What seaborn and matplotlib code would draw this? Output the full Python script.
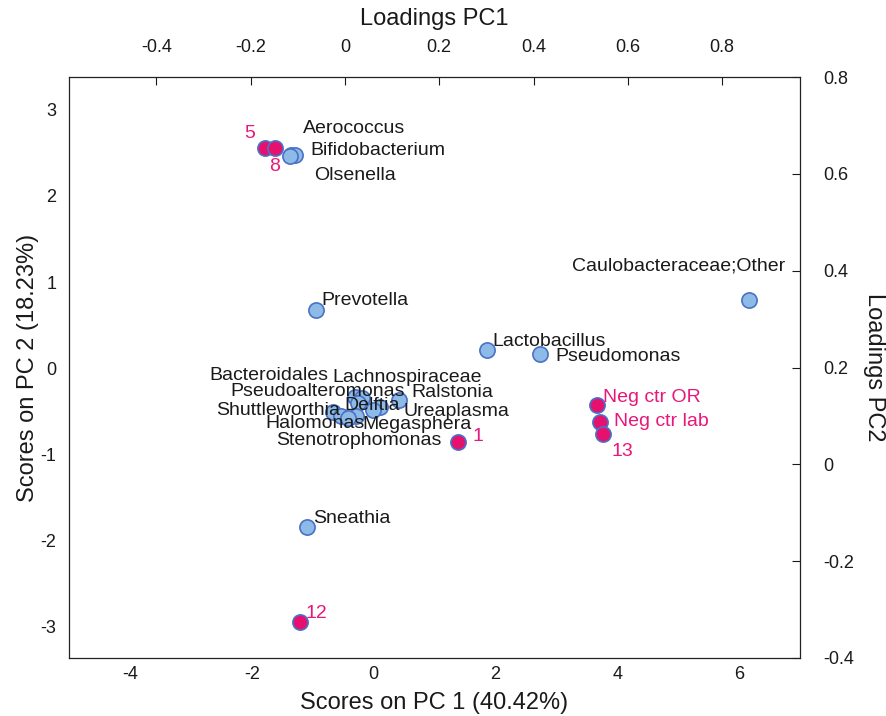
import matplotlib
matplotlib.use("Agg")
import matplotlib.pyplot as plt
import seaborn as sns
import pandas as pd

# ---- data ----
score_names = ["5", "8", "1", "12", "Neg ctr OR", "Neg ctr lab", "13"]
score_pc1 = [-1.78, -1.62, 1.39, -1.21, 3.67, 3.72, 3.76]
score_pc2 = [2.56, 2.56, -0.86, -2.94, -0.43, -0.62, -0.76]

loading_names = ["Aerococcus", "Bifidobacterium", "Olsenella", "Prevotella",
                 "Lactobacillus", "Pseudomonas", "Caulobacteraceae;Other", "Sneathia",
                 "Bacteroidales", "Lachnospiraceae", "Pseudoalteromonas", "Ralstonia",
                 "Shuttleworthia", "Delftia", "Ureaplasma", "Halomonas", "Megasphera",
                 "Stenotrophomonas"]
loading_pc1 = [-0.115, -0.106, -0.117, -0.062, 0.301, 0.414, 0.857, -0.081,
               0.021, 0.036, 0.028, 0.115, -0.025, 0.074, 0.059, -0.008, 0.023, 0.006]
loading_pc2 = [0.639, 0.639, 0.637, 0.319, 0.236, 0.228, 0.340, -0.129,
               0.139, 0.137, 0.127, 0.133, 0.108, 0.118, 0.112, 0.100, 0.100, 0.096]

# label offsets in pixels (dx, dy up) and horizontal alignment -- layout only
score_label_offsets = {"5": (-15, 14, "center"), "8": (0, -19, "center"),
                       "1": (20, 6, "center"), "12": (17, 8, "center"),
                       "Neg ctr OR": (6, 8, "left"), "Neg ctr lab": (14, 0, "left"),
                       "13": (20, -18, "center")}
loading_label_offsets = {"Aerococcus": (12, 26), "Bifidobacterium": (15, 4),
                         "Olsenella": (24, -20), "Prevotella": (6, 9),
                         "Lactobacillus": (6, 9), "Pseudomonas": (15, -3),
                         "Caulobacteraceae;Other": (-177, 34), "Sneathia": (6, 8),
                         "Bacteroidales": (-145, 22), "Lachnospiraceae": (-29, 21),
                         "Pseudoalteromonas": (-128, 11), "Ralstonia": (12, 7),
                         "Shuttleworthia": (-117, 2), "Delftia": (-35, 2),
                         "Ureaplasma": (31, -1), "Halomonas": (-76, -8),
                         "Megasphera": (7, -9), "Stenotrophomonas": (-72, -23)}

scores = pd.DataFrame({"name": score_names, "pc1": score_pc1, "pc2": score_pc2})
loadings = pd.DataFrame({"name": loading_names, "pc1": loading_pc1, "pc2": loading_pc2})

sns.set_style("white")
plt.rcParams["font.family"] = ["Liberation Sans", "DejaVu Sans"]

pink = "#E6106E"
pink_text = "#E8177A"
blue_face = "#8DBAE6"
edge = "#4A72C6"
txt = "#1a1a1a"

fig = plt.figure(figsize=(8.87, 7.16), dpi=100)
pos = [69 / 887, 1 - 658 / 716, (800 - 69) / 887, (658 - 77) / 716]
ax = fig.add_axes(pos)
ax2 = fig.add_axes(pos, frameon=False)

# loadings (top / right axes)
sns.scatterplot(data=loadings, x="pc1", y="pc2", ax=ax2, s=120, color=blue_face,
                edgecolor=edge, linewidth=1.2, zorder=3)
ax2.set_xlim(-0.585, 0.965)
ax2.set_ylim(-0.4, 0.8)
ax2.xaxis.tick_top()
ax2.xaxis.set_label_position("top")
ax2.yaxis.tick_right()
ax2.yaxis.set_label_position("right")
ax2.set_xticks([-0.4, -0.2, 0, 0.2, 0.4, 0.6, 0.8])
ax2.set_xticklabels(["-0.4", "-0.2", "0", "0.2", "0.4", "0.6", "0.8"])
ax2.set_yticks([-0.4, -0.2, 0, 0.2, 0.4, 0.6, 0.8])
ax2.set_yticklabels(["-0.4", "-0.2", "0", "0.2", "0.4", "0.6", "0.8"])
ax2.set_xlabel("Loadings PC1", fontsize=17, color=txt, labelpad=10)
ax2.set_ylabel("Loadings PC2", fontsize=17, color=txt, rotation=270, labelpad=22)
for name, x, y in zip(loading_names, loading_pc1, loading_pc2):
    dx, dy = loading_label_offsets[name]
    ax2.annotate(name, (x, y), xytext=(dx, dy), textcoords="offset pixels",
                 ha="left", va="center", fontsize=14, color=txt, zorder=4)

# scores (bottom / left axes)
sns.scatterplot(data=scores, x="pc1", y="pc2", ax=ax, s=120, color=pink,
                edgecolor=edge, linewidth=1.2, zorder=3)
ax.set_xlim(-5, 7)
ax.set_ylim(-3.36, 3.38)
ax.set_xticks([-4, -2, 0, 2, 4, 6])
ax.set_xticklabels(["-4", "-2", "0", "2", "4", "6"])
ax.set_yticks([-3, -2, -1, 0, 1, 2, 3])
ax.set_yticklabels(["-3", "-2", "-1", "0", "1", "2", "3"])
ax.set_xlabel("Scores on PC 1 (40.42%)", fontsize=17, color=txt, labelpad=6)
ax.set_ylabel("Scores on PC 2 (18.23%)", fontsize=17, color=txt, labelpad=1)
for name, x, y in zip(score_names, score_pc1, score_pc2):
    dx, dy, ha = score_label_offsets[name]
    ax.annotate(name, (x, y), xytext=(dx, dy), textcoords="offset pixels",
                ha=ha, va="center", fontsize=14, color=pink_text, zorder=4)

ax.set_zorder(2)
ax.patch.set_visible(False)
ax2.set_zorder(1)

for a in (ax, ax2):
    a.tick_params(direction="in", length=6, width=0.8, labelsize=13, colors=txt,
                  labelcolor=txt)
ax.tick_params(axis="x", pad=6)
ax.tick_params(axis="y", pad=9)
ax2.tick_params(axis="x", pad=15)
ax2.tick_params(axis="y", pad=17)
for s in ax.spines.values():
    s.set_color("#222222")
    s.set_linewidth(0.9)
    s.set_visible(True)

fig.savefig("out.png", dpi=100, facecolor="white")
